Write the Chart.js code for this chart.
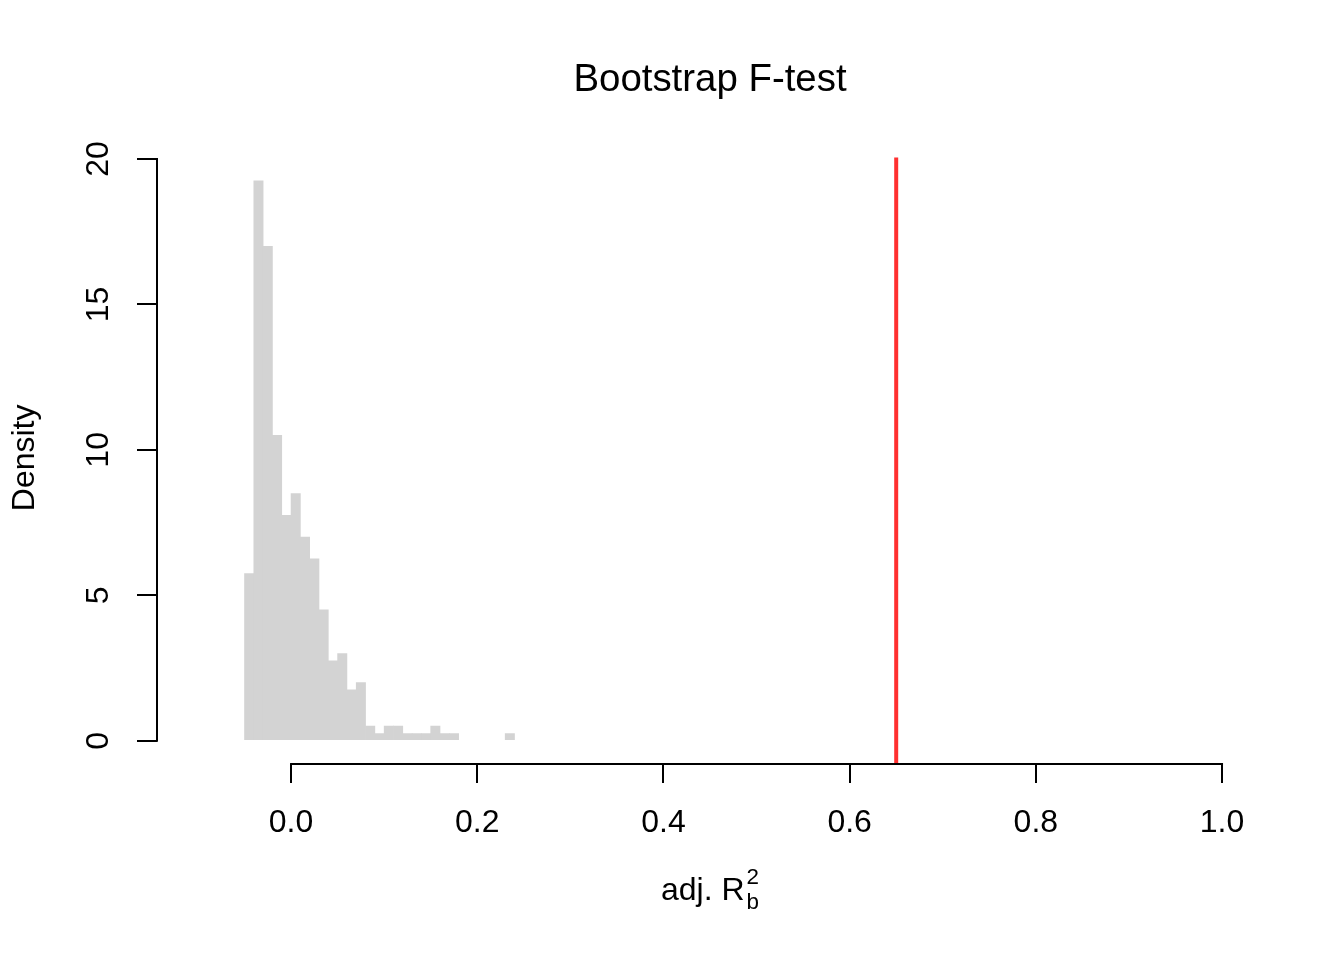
<!DOCTYPE html>
<html><head><meta charset="utf-8">
<script src="https://cdn.jsdelivr.net/npm/chart.js@4"></script>
<style>html,body{margin:0;padding:0;background:#fff;} #wrap{width:1344px;height:960px;}</style>
</head><body><div id="wrap"><canvas id="c" width="1344" height="960"></canvas></div>
<script>
const binCenters = [-0.045, -0.035, -0.025, -0.015, -0.005, 0.005, 0.015, 0.025, 0.035, 0.045,
  0.055, 0.065, 0.075, 0.085, 0.095, 0.105, 0.115, 0.125, 0.135, 0.145,
  0.155, 0.165, 0.175, 0.185, 0.195, 0.205, 0.215, 0.225, 0.235];
const densities = [5.75, 19.25, 17.0, 10.5, 7.75, 8.5, 7.0, 6.25, 4.5, 2.75,
  3.0, 1.75, 2.0, 0.5, 0.25, 0.5, 0.5, 0.25, 0.25, 0.25,
  0.5, 0.25, 0.25, 0, 0, 0, 0, 0, 0.25];
const observedStat = 0.65;
const observedLineY = [-0.8, 20.05];
const xTickValues = [0, 0.2, 0.4, 0.6, 0.8, 1.0];
const xTickLabels = ['0.0', '0.2', '0.4', '0.6', '0.8', '1.0'];
const yTickValues = [0, 5, 10, 15, 20];
const yTickLabels = ['0', '5', '10', '15', '20'];
const xRange = [-0.144, 1.044];
const yRange = [-0.8, 20.8];
const titleText = 'Bootstrap F-test';
const yTitle = 'Density';
const xTitleMain = 'adj. R';
const xTitleSub = 'b';
const xTitleSup = '2';

const FONT = "'Liberation Sans', Arial, Helvetica, sans-serif";

const axisLines = {
  id: 'axisLines',
  afterDraw(chart) {
    const ctx = chart.ctx;
    const xs = chart.scales.x, ys = chart.scales.y;
    const ca = chart.chartArea;
    ctx.save();
    ctx.strokeStyle = '#000';
    ctx.lineWidth = 2;
    ctx.beginPath();
    ctx.moveTo(xs.getPixelForValue(xTickValues[0]) - 1, ca.bottom);
    ctx.lineTo(xs.getPixelForValue(xTickValues[xTickValues.length - 1]) + 1, ca.bottom);
    ctx.moveTo(ca.left, ys.getPixelForValue(yTickValues[0]) + 1);
    ctx.lineTo(ca.left, ys.getPixelForValue(yTickValues[yTickValues.length - 1]) - 1);
    ctx.stroke();
    ctx.fillStyle = '#000';
    // y title
    ctx.save();
    ctx.font = '32px ' + FONT;
    ctx.textAlign = 'center';
    ctx.textBaseline = 'middle';
    ctx.translate(25, (ca.top + ca.bottom) / 2 + 8);
    ctx.rotate(-Math.PI / 2);
    ctx.fillText(yTitle, 0, 0);
    ctx.restore();
    // x title with sub/superscript
    ctx.textBaseline = 'alphabetic';
    ctx.textAlign = 'left';
    const big = '32px ' + FONT, small = '22.4px ' + FONT;
    ctx.font = big;
    const w1 = ctx.measureText(xTitleMain).width;
    ctx.font = small;
    const ws = Math.max(ctx.measureText(xTitleSub).width, ctx.measureText(xTitleSup).width);
    const total = w1 + ws + 2;
    const cx = (ca.left + ca.right) / 2;
    const x0 = cx - total / 2;
    const base = 900;
    ctx.font = big;
    ctx.fillText(xTitleMain, x0, base);
    ctx.font = small;
    ctx.fillText(xTitleSub, x0 + w1 + 2, base + 9);
    ctx.fillText(xTitleSup, x0 + w1 + 2, base - 16);
    ctx.restore();
  }
};

const barPoints = binCenters
  .map((c, i) => ({ x: c, y: densities[i] }))
  .filter(p => p.y > 0);

new Chart(document.getElementById('c').getContext('2d'), {
  data: {
    datasets: [
      {
        type: 'bar',
        data: barPoints,
        backgroundColor: '#d3d3d3',
        borderWidth: 0,
        barPercentage: 1,
        categoryPercentage: 1,
        order: 2
      },
      {
        type: 'line',
        data: observedLineY.map(v => ({ x: observedStat, y: v })),
        borderColor: '#ff3030',
        borderWidth: 4,
        pointRadius: 0,
        order: 1
      }
    ]
  },
  options: {
    responsive: false,
    animation: false,
    devicePixelRatio: 1,
    layout: { padding: { left: 0, right: 81, top: 0, bottom: 0 } },
    plugins: {
      legend: { display: false },
      tooltip: { enabled: false },
      title: {
        display: true, text: titleText, color: '#000', fullSize: false,
        font: { family: FONT, size: 38.4, weight: 'normal' },
        padding: { top: 57, bottom: 32.62 }
      }
    },
    scales: {
      x: {
        type: 'linear', min: xRange[0], max: xRange[1], offset: false,
        afterBuildTicks: (s) => { s.ticks = xTickValues.map(v => ({ value: v })); },
        afterFit: (s) => { s.height = 196; },
        grid: { display: true, offset: false, drawOnChartArea: false, drawTicks: true, tickLength: 19, color: '#000', lineWidth: 2 },
        border: { display: false },
        ticks: {
          autoSkip: false, maxRotation: 0, minRotation: 0, padding: 21, color: '#000',
          font: { family: FONT, size: 32 },
          callback: (v, i) => xTickLabels[i]
        }
      },
      y: {
        type: 'linear', min: yRange[0], max: yRange[1],
        afterBuildTicks: (s) => { s.ticks = yTickValues.map(v => ({ value: v })); },
        afterFit: (s) => { s.width = 157; },
        grid: { display: true, drawOnChartArea: false, drawTicks: true, tickLength: 20, color: '#000', lineWidth: 2 },
        border: { display: false },
        ticks: {
          autoSkip: false, minRotation: 90, maxRotation: 90, crossAlign: 'center', padding: 20, color: '#000',
          font: { family: FONT, size: 32 },
          callback: (v, i) => yTickLabels[i]
        }
      }
    }
  },
  plugins: [axisLines]
});
</script>
</body></html>
